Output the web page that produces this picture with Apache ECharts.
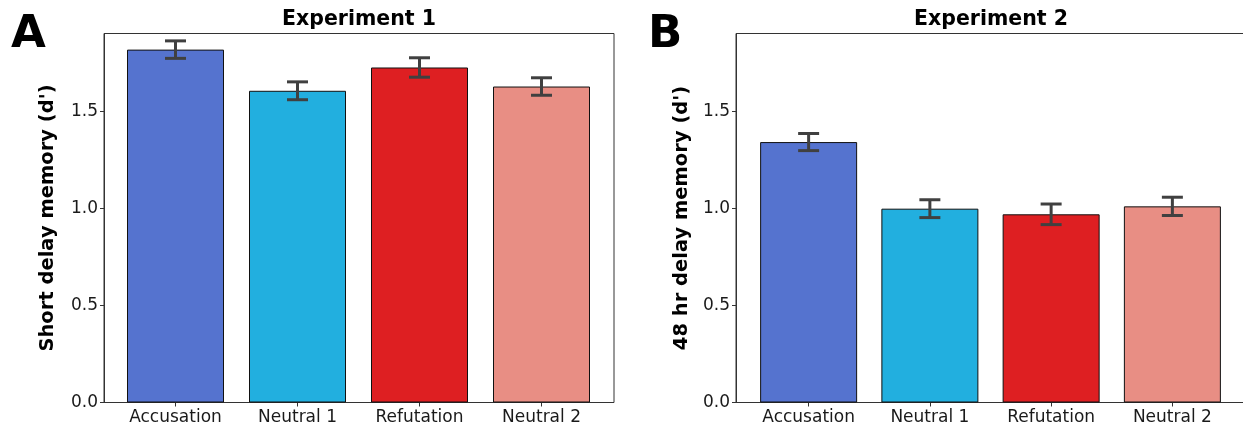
<!DOCTYPE html>
<html>
<head>
<meta charset="utf-8">
<script src="https://cdn.jsdelivr.net/npm/echarts@6/dist/echarts.min.js"></script>
<style>
  html, body { margin: 0; padding: 0; background: #fff; }
  #chart { width: 1243px; height: 432px; }
</style>
</head>
<body>
<div id="chart"></div>
<script>
// data
var categories = ["Accusation", "Neutral 1", "Refutation", "Neutral 2"];
var exp1Means = [1.817, 1.605, 1.725, 1.627];
var exp1Err = [0.045, 0.046, 0.05, 0.045];
var exp2Means = [1.341, 0.998, 0.969, 1.01];
var exp2Err = [0.044, 0.046, 0.053, 0.047];
var barColors = ["#5573CF", "#22AFDF", "#DE1F22", "#E88E84"];
var yTicks = [0, 0.5, 1.0, 1.5];
var yMax = 1.9;

var FONT = "DejaVu Sans";
var TXT = "#1a1a1a";

function barData(means) {
  return means.map(function (v, i) {
    return { value: v, itemStyle: { color: barColors[i] } };
  });
}

function errData(means, errs) {
  return means.map(function (v, i) {
    return [i, v - errs[i], v + errs[i]];
  });
}

function renderErr(params, api) {
  var x = api.value(0);
  var lo = api.coord([x, api.value(1)]);
  var hi = api.coord([x, api.value(2)]);
  var cap = 10.5;
  var st = { stroke: "#404040", lineWidth: 3 };
  return {
    type: "group",
    children: [
      { type: "line", shape: { x1: lo[0], y1: lo[1], x2: hi[0], y2: hi[1] }, style: st },
      { type: "line", shape: { x1: lo[0] - cap, y1: lo[1], x2: lo[0] + cap, y2: lo[1] }, style: st },
      { type: "line", shape: { x1: hi[0] - cap, y1: hi[1], x2: hi[0] + cap, y2: hi[1] }, style: st },
    ],
  };
}

// frame grid (y axis + box) and inner grid (bars + category ticks)
function frameYAxis(gridIndex, name, gap) {
  return {
    type: "value",
    gridIndex: gridIndex,
    min: 0,
    max: yMax,
    name: name,
    nameLocation: "middle",
    nameGap: gap,
    nameTextStyle: { fontFamily: FONT, fontSize: 19.5, fontWeight: "bold", color: "#000" },
    axisLine: { show: true, lineStyle: { color: "#333", width: 1 } },
    axisTick: { show: true, length: 4, customValues: yTicks, lineStyle: { color: "#333" } },
    axisLabel: {
      fontFamily: FONT,
      fontSize: 17,
      color: TXT,
      margin: 6,
      customValues: yTicks,
      formatter: function (v) { return v.toFixed(1); },
    },
    splitLine: { show: false },
  };
}

function hiddenY(gridIndex) {
  return {
    type: "value", gridIndex: gridIndex, min: 0, max: yMax,
    show: false, splitLine: { show: false },
  };
}

function hiddenX(gridIndex) {
  return {
    type: "value", gridIndex: gridIndex, min: 0, max: 1,
    show: false, splitLine: { show: false },
  };
}

function catX(gridIndex) {
  return {
    type: "category",
    gridIndex: gridIndex,
    data: categories,
    axisLine: { show: false },
    axisTick: { show: true, alignWithLabel: true, length: 4, lineStyle: { color: "#333" } },
    axisLabel: { fontFamily: FONT, fontSize: 17, color: TXT, margin: 7 },
  };
}

var chart = echarts.init(document.getElementById("chart"), null, { renderer: "canvas" });

var frameStyle = { show: true, borderColor: "#333", borderWidth: 1, backgroundColor: "transparent" };

var option = {
  animation: false,
  backgroundColor: "#fff",
  grid: [
    Object.assign({ left: 104, width: 510, top: 33.5, bottom: 29.5, outerBoundsMode: "none", containLabel: false }, frameStyle),
    { left: 114.5, width: 488, top: 33.5, bottom: 29.5, outerBoundsMode: "none", containLabel: false },
    Object.assign({ left: 736, width: 520, top: 33.5, bottom: 29.5, outerBoundsMode: "none", containLabel: false }, frameStyle),
    { left: 748, width: 485, top: 33.5, bottom: 29.5, outerBoundsMode: "none", containLabel: false },
  ],
  xAxis: [hiddenX(0), catX(1), hiddenX(2), catX(3)],
  yAxis: [
    frameYAxis(0, "Short delay memory (d')", 46),
    hiddenY(1),
    frameYAxis(2, "48 hr delay memory (d')", 44),
    hiddenY(3),
  ],
  graphic: [
    { type: "text", left: 11, top: 13, style: { text: "A", fontFamily: FONT, fontWeight: "bold", fontSize: 45, fill: "#000" } },
    { type: "text", left: 648, top: 13, style: { text: "B", fontFamily: FONT, fontWeight: "bold", fontSize: 45, fill: "#000" } },
    { type: "text", x: 359, y: 9, style: { text: "Experiment 1", textAlign: "center", fontFamily: FONT, fontWeight: "bold", fontSize: 20.5, fill: "#000" } },
    { type: "text", x: 991, y: 9, style: { text: "Experiment 2", textAlign: "center", fontFamily: FONT, fontWeight: "bold", fontSize: 20.5, fill: "#000" } },
  ],
  series: [
    {
      type: "bar", xAxisIndex: 1, yAxisIndex: 1, barWidth: 97,
      itemStyle: { borderColor: "#111", borderWidth: 1 },
      data: barData(exp1Means),
    },
    {
      type: "custom", xAxisIndex: 1, yAxisIndex: 1, z: 5,
      renderItem: renderErr, data: errData(exp1Means, exp1Err),
    },
    {
      type: "bar", xAxisIndex: 3, yAxisIndex: 3, barWidth: 97,
      itemStyle: { borderColor: "#111", borderWidth: 1 },
      data: barData(exp2Means),
    },
    {
      type: "custom", xAxisIndex: 3, yAxisIndex: 3, z: 5,
      renderItem: renderErr, data: errData(exp2Means, exp2Err),
    },
  ],
};

chart.setOption(option);
</script>
</body>
</html>
